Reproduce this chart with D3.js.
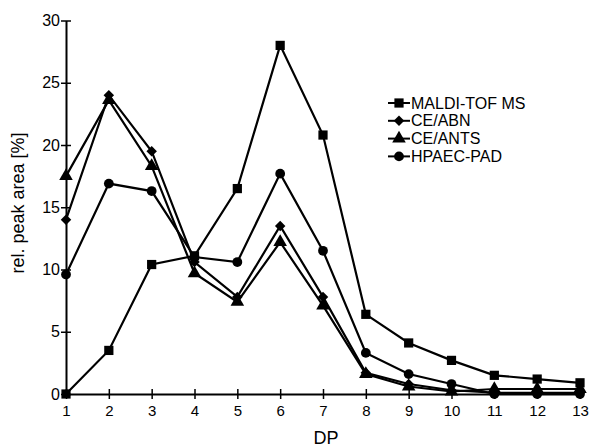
<!DOCTYPE html>
<html>
<head>
<meta charset="utf-8">
<script src="https://cdn.jsdelivr.net/npm/d3@7"></script>
<style>
body{margin:0;background:#fff;}
text{font-family:"Liberation Sans",Arial,sans-serif;fill:#000;}
</style>
</head>
<body>
<script>
var dp=[1,2,3,4,5,6,7,8,9,10,11,12,13]
var maldi=[0,3.5,10.4,11.1,16.5,28.0,20.8,6.4,4.1,2.7,1.5,1.2,0.9]
var abn=[14.0,24.0,19.5,10.6,7.8,13.5,7.8,1.7,0.8,0.3,0.1,0.1,0.1]
var ants=[17.5,23.6,18.3,9.7,7.4,12.2,7.1,1.6,0.6,0.2,0.4,0.4,0.4]
var hpaec=[9.6,16.9,16.3,11.0,10.6,17.7,11.5,3.3,1.6,0.8,0,0,0]
var yTicks=[0,5,10,15,20,25,30]
var names=["MALDI-TOF MS","CE/ABN","CE/ANTS","HPAEC-PAD"]

var width=592,height=447
var svg=d3.select("body").append("svg").attr("width",width).attr("height",height)

var x=d3.scaleLinear().domain([1,13]).range([66,580])
var y=d3.scaleLinear().domain([0,30]).range([394,20.5])

// axes
var xAxis=svg.append("g").attr("transform","translate(0,394)")
  .call(d3.axisBottom(x).tickValues(dp).tickSizeInner(5).tickSizeOuter(0).tickFormat(d3.format("d")))
xAxis.select(".domain").attr("stroke-width",2)
xAxis.selectAll(".tick line").attr("y1",-5).attr("stroke-width",1.5)
xAxis.selectAll(".tick text").attr("y",11).style("font-size","15px")

var yAxis=svg.append("g").attr("transform","translate(66,0)")
  .call(d3.axisLeft(y).tickValues(yTicks).tickSizeInner(5).tickSizeOuter(0))
yAxis.select(".domain").attr("stroke-width",2)
yAxis.selectAll(".tick line").attr("x1",5).attr("x2",-5).attr("stroke-width",1.5)
yAxis.selectAll(".tick text").attr("x",-6).style("font-size","16px")

svg.append("text").attr("x",326).attr("y",444).attr("text-anchor","middle")
  .style("font-size","18px").text("DP")
svg.append("text").attr("transform","translate(24,203) rotate(-90)").attr("text-anchor","middle")
  .style("font-size","18px").text("rel. peak area [%]")

var series=[maldi,abn,ants,hpaec]
var symbols=[d3.symbolSquare,d3.symbolSquare,d3.symbolTriangle,d3.symbolCircle]
var sizes=[85,55,80,75]
var rot=[0,45,0,0]

var line=d3.line().x(function(d,i){return x(dp[i])}).y(function(d){return y(d)})

series.forEach(function(s,k){
  svg.append("path").attr("d",line(s)).attr("fill","none")
    .attr("stroke","#000").attr("stroke-width",2.2)
  svg.selectAll(null).data(s).enter().append("path")
    .attr("d",d3.symbol().type(symbols[k]).size(sizes[k]))
    .attr("transform",function(d,i){return "translate("+x(dp[i])+","+y(d)+") rotate("+rot[k]+")"})
    .attr("fill","#000")
})

// legend
var leg=svg.append("g")
names.forEach(function(n,k){
  var yy=103+k*17.8
  leg.append("line").attr("x1",388).attr("x2",410).attr("y1",yy).attr("y2",yy)
    .attr("stroke","#000").attr("stroke-width",2)
  leg.append("path").attr("d",d3.symbol().type(symbols[k]).size(sizes[k]))
    .attr("transform","translate(399,"+yy+") rotate("+rot[k]+")")
  leg.append("text").attr("x",411).attr("y",yy+5.5).style("font-size","16px").text(n)
})
</script>
</body>
</html>
